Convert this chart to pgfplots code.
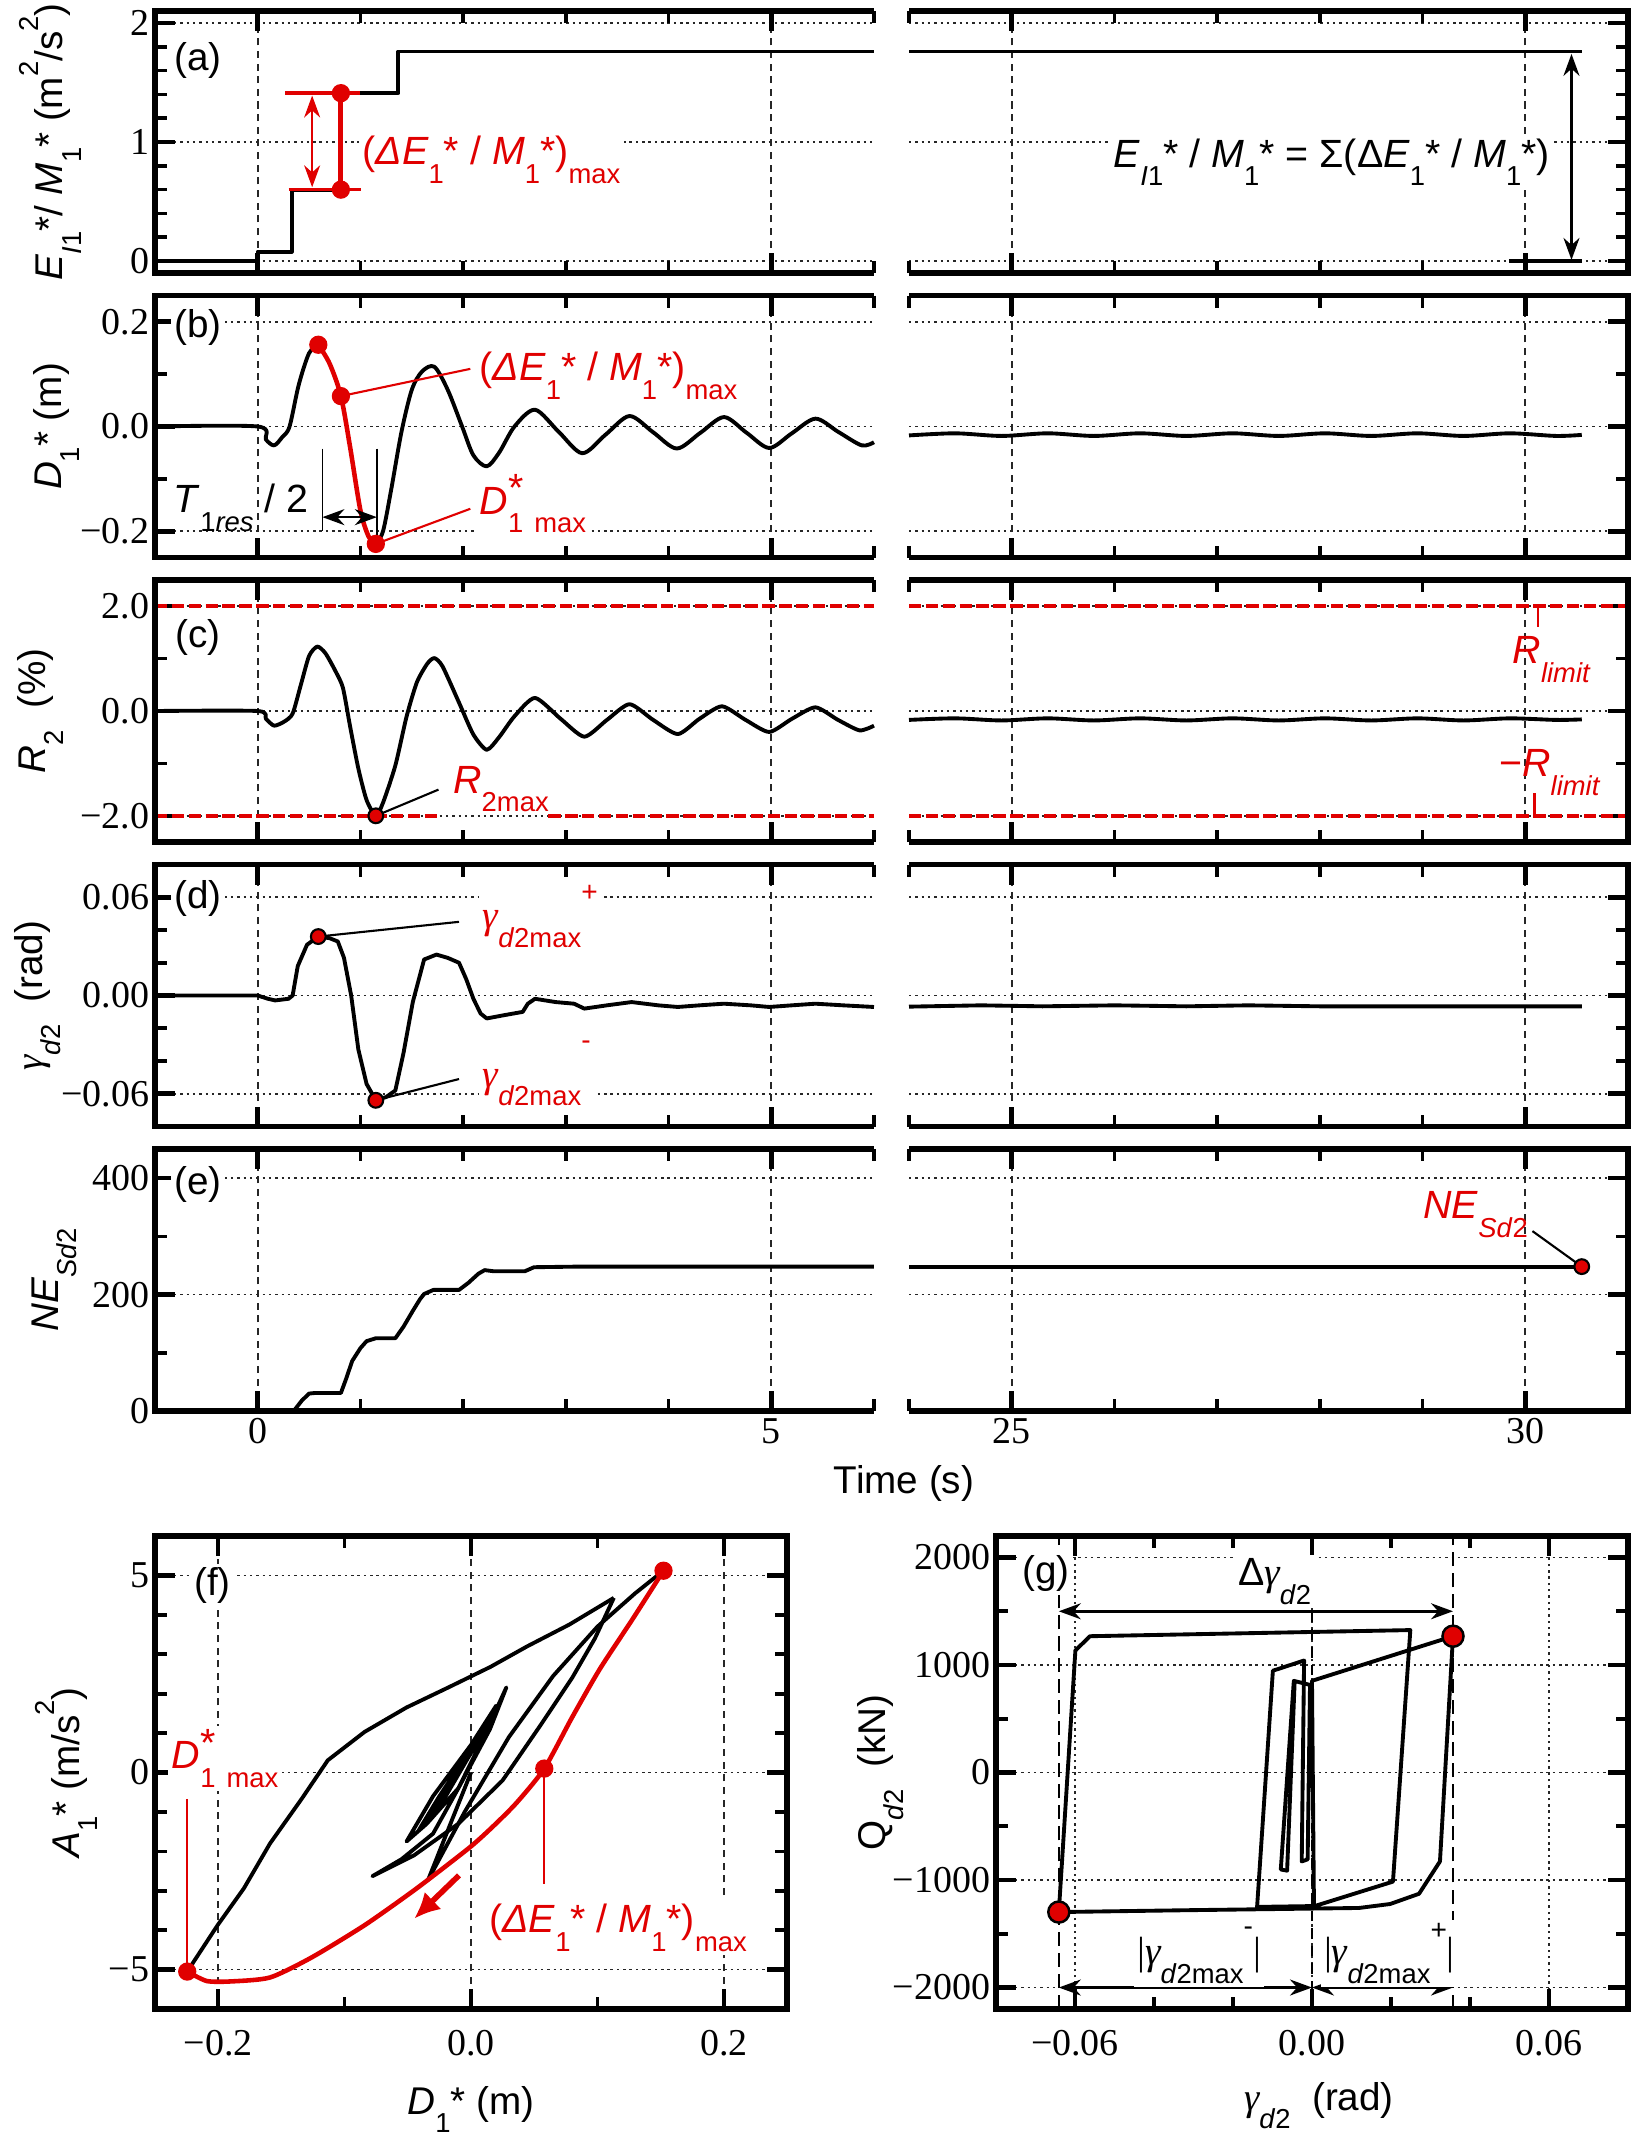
\documentclass[border=0pt]{standalone}
\usepackage{fontspec}
\setmainfont{Liberation Sans}
\newfontfamily\serif{Liberation Serif}
\usepackage{pgfplots}
\pgfplotsset{compat=1.18}
\usetikzlibrary{arrows.meta}
\definecolor{rd}{HTML}{E00000}
\newcommand\tickfont{\serif\fontsize{10.8}{12}\selectfont}
\newcommand\labfont{\fontsize{11}{13}\selectfont}
\newcommand\annfont{\fontsize{11.2}{13}\selectfont}
\newcommand\sub[1]{\raisebox{-0.9ex}{\fontsize{7.8}{8}\selectfont #1}}
\newcommand\sups[1]{\raisebox{1.2ex}{\fontsize{7.8}{8}\selectfont #1}}
\newcommand\gam{{\serif\itshape γ}}
\pgfplotsset{
 base/.style={scale only axis, clip=false, axis line style={draw=none}, scaled ticks=false,
  tick align=inside, major tick length=2mm, minor tick length=1.2mm,
  major tick style={line width=1.3pt,black}, minor tick style={line width=1.05pt,black},
  tick label style={font=\tickfont}, xticklabel style={inner sep=2pt}, yticklabel style={inner sep=1.5pt},
  xmajorgrids, ymajorgrids,
  x grid style={black!85, line width=0.45pt, dash pattern=on 2pt off 1.6pt},
  y grid style={black!85, line width=0.5pt, dash pattern=on 0.7pt off 1.1pt}},
 tl/.style={base, width=71.9mm, height=26.2mm, xmin=-1, xmax=6, xtick={0,5}, minor xtick={1,2,3,4,6}, xticklabels={}, ytick pos=left},
 tr/.style={base, width=71.9mm, height=26.2mm, xmin=24, xmax=31, xtick={25,30}, minor xtick={24,26,27,28,29}, xticklabels={}, ytick pos=right, yticklabels={}},
 cv/.style={black, line width=1.1pt, line join=round},
 dot/.style={only marks, mark=*, mark size=2.4pt, color=rd},
 edot/.style={only marks, mark=*, mark size=2.1pt, mark options={fill=rd, draw=black, line width=0.6pt}},
}
\newcommand\lframe{\draw[line width=1.6pt] (rel axis cs:1,1) -- (rel axis cs:0,1) -- (rel axis cs:0,0) -- (rel axis cs:1,0);}
\newcommand\rframe{\draw[line width=1.6pt] (rel axis cs:0,1) -- (rel axis cs:1,1) -- (rel axis cs:1,0) -- (rel axis cs:0,0);}
\newcommand\bframe{\draw[line width=1.6pt] (rel axis cs:0,0) rectangle (rel axis cs:1,1);}
\tikzset{dbl/.style={line width=0.6pt, {Stealth[length=2.2mm,width=1.6mm]}-{Stealth[length=2.2mm,width=1.6mm]}}}
\begin{document}
\begin{tikzpicture}
\useasboundingbox (0,0) rectangle (163.8mm,-213.6mm);

% ---------- (a)
\begin{axis}[tl, at={(15.5mm,-27.3mm)}, anchor=south west, ymin=-0.1, ymax=2.1,
 ytick={0,1,2}, yticklabels={0,1,2}, minor ytick={0.2,0.4,0.6,0.8,1.2,1.4,1.6,1.8}]
\addplot[cv] coordinates {(-1,0) (0,0) (0,0.08) (0.33,0.08) (0.33,0.6) (0.81,0.6) (0.81,1.41) (1.37,1.41) (1.37,1.76) (6,1.76)};
\draw[rd, line width=1pt] (axis cs:0.27,1.41) -- (axis cs:1.0,1.41);
\draw[rd, line width=1pt] (axis cs:0.3,0.6) -- (axis cs:1.01,0.6);
\draw[rd, line width=1.4pt] (axis cs:0.81,0.6) -- (axis cs:0.81,1.41);
\draw[rd, dbl] (axis cs:0.53,0.62) -- (axis cs:0.53,1.39);
\addplot[dot] coordinates {(0.81,0.6) (0.81,1.41)};
\node[font=\labfont, fill=white, inner sep=1pt] at (rel axis cs:0.06,0.81) {(a)};
\node[rd, anchor=west, font=\annfont, fill=white, inner sep=1pt] at (axis cs:0.98,0.85) {(\textit{ΔE}\sub{1}* / \textit{M}\sub{1}*)\sub{max}};
\lframe
\end{axis}
\begin{axis}[tr, at={(90.9mm,-27.3mm)}, anchor=south west, ymin=-0.1, ymax=2.1,
 ytick={0,1,2}, minor ytick={0.2,0.4,0.6,0.8,1.2,1.4,1.6,1.8}]
\addplot[cv] coordinates {(24,1.76) (30.55,1.76)};
\draw[line width=1pt] (axis cs:29.84,0) -- (axis cs:30.55,0);
\draw[dbl, line width=0.7pt] (axis cs:30.45,1.74) -- (axis cs:30.45,0.01);
\node[anchor=east, font=\annfont, fill=white, inner sep=1pt] at (axis cs:30.28,0.83) {\textit{E}\sub{\textit{I}1}* / \textit{M}\sub{1}* = Σ(Δ\textit{E}\sub{1}* / \textit{M}\sub{1}*)};
\rframe
\end{axis}

% ---------- (b)
\begin{axis}[tl, at={(15.5mm,-55.75mm)}, anchor=south west, ymin=-0.25, ymax=0.25,
 ytick={-0.2,0,0.2}, yticklabels={−0.2,0.0,0.2}, minor ytick={-0.1,0.1}]
\addplot[cv, smooth, tension=0.5] coordinates {(-1,0) (0,0) (0.08,-0.025) (0.16,-0.036) (0.24,-0.02) (0.31,0.0) (0.4,0.08) (0.5,0.14) (0.59,0.156)};
\addplot[cv, smooth, tension=0.5] coordinates {(1.15,-0.224) (1.22,-0.2) (1.3,-0.12) (1.4,-0.01) (1.5,0.07) (1.6,0.105) (1.72,0.114) (1.85,0.07) (1.99,0.0) (2.1,-0.055) (2.23,-0.076) (2.35,-0.05) (2.5,0.0) (2.7,0.032) (2.93,-0.01) (3.16,-0.051) (3.39,-0.015) (3.62,0.02) (3.85,-0.011) (4.08,-0.042) (4.31,-0.012) (4.54,0.018) (4.76,-0.012) (4.98,-0.041) (5.2,-0.013) (5.43,0.015) (5.65,-0.01) (5.88,-0.036) (6,-0.03)};
\addplot[rd, line width=1.3pt, smooth, tension=0.5] coordinates {(0.59,0.156) (0.7,0.12) (0.81,0.058) (0.9,-0.04) (1.0,-0.16) (1.08,-0.21) (1.15,-0.224)};
\addplot[dot] coordinates {(0.59,0.156) (0.81,0.058) (1.15,-0.224)};
\draw[rd, line width=0.6pt] (axis cs:0.81,0.058) -- (axis cs:2.07,0.11);
\draw[rd, line width=0.6pt] (axis cs:1.15,-0.224) -- (axis cs:2.07,-0.157);
\draw[line width=0.5pt] (axis cs:0.63,-0.042) -- (axis cs:0.63,-0.2);
\draw[line width=0.5pt] (axis cs:1.16,-0.042) -- (axis cs:1.16,-0.215);
\draw[dbl, line width=0.7pt] (axis cs:0.63,-0.173) -- (axis cs:1.16,-0.173);
\node[font=\labfont, fill=white, inner sep=1pt] at (rel axis cs:0.06,0.876) {(b)};
\node[rd, anchor=base west, font=\annfont, fill=white, inner sep=1pt] at (axis cs:2.12,0.088) {(\textit{ΔE}\sub{1}* / \textit{M}\sub{1}*)\sub{max}};
\node[rd, anchor=base west, font=\annfont, fill=white, inner sep=1pt] at (axis cs:2.12,-0.167) {\textit{D}\rlap{\sub{1}}\raisebox{0.6ex}{*}\ \sub{max}};
\node[anchor=base east, font=\annfont, inner sep=0pt] at (axis cs:0.5,-0.164) {\textit{T}\sub{1\textit{res}} / 2};
\lframe
\end{axis}
\begin{axis}[tr, at={(90.9mm,-55.75mm)}, anchor=south west, ymin=-0.25, ymax=0.25,
 ytick={-0.2,0,0.2}, minor ytick={-0.1,0.1}]
\addplot[cv, smooth] coordinates {(24,-0.017) (24.45,-0.013) (24.9,-0.018) (25.35,-0.013) (25.8,-0.018) (26.25,-0.013) (26.7,-0.018) (27.15,-0.013) (27.6,-0.018) (28.05,-0.013) (28.5,-0.018) (28.95,-0.013) (29.4,-0.018) (29.85,-0.013) (30.3,-0.018) (30.55,-0.016)};
\rframe
\end{axis}

% ---------- (c)
\begin{axis}[tl, at={(15.5mm,-84.2mm)}, anchor=south west, ymin=-2.5, ymax=2.5,
 ytick={-2,0,2}, yticklabels={−2.0,0.0,2.0}, minor ytick={-1,1}]
\addplot[rd, line width=1.2pt, dash pattern=on 3.5pt off 1.3pt] coordinates {(-1,2) (6,2)};
\addplot[rd, line width=1.2pt, dash pattern=on 3.5pt off 1.3pt] coordinates {(-1,-2) (1.79,-2)};
\addplot[rd, line width=1.2pt, dash pattern=on 3.5pt off 1.3pt] coordinates {(2.83,-2) (6,-2)};
\addplot[cv, smooth, tension=0.4] coordinates {(-1,0) (0,0) (0.08,-0.15) (0.16,-0.28) (0.26,-0.2) (0.34,-0.05) (0.42,0.5) (0.5,1.05) (0.58,1.23) (0.66,1.1) (0.76,0.75) (0.83,0.44) (0.9,-0.3) (0.98,-1.1) (1.06,-1.7) (1.15,-2.0) (1.22,-1.75) (1.34,-1.04) (1.45,-0.1) (1.55,0.55) (1.65,0.9) (1.72,1.01) (1.8,0.85) (1.96,0.16) (2.1,-0.45) (2.23,-0.74) (2.35,-0.5) (2.5,-0.1) (2.70,0.25) (2.95,-0.15) (3.18,-0.49) (3.4,-0.17) (3.62,0.13) (3.85,-0.17) (4.09,-0.44) (4.3,-0.15) (4.52,0.09) (4.75,-0.17) (4.98,-0.40) (5.2,-0.15) (5.43,0.07) (5.65,-0.17) (5.86,-0.37) (6,-0.28)};
\draw[line width=0.6pt] (axis cs:1.15,-2.0) -- (axis cs:1.76,-1.5);
\addplot[edot] coordinates {(1.15,-2.0)};
\node[font=\labfont, fill=white, inner sep=1pt] at (rel axis cs:0.06,0.78) {(c)};
\node[rd, anchor=base west, font=\annfont, inner sep=0.5pt] at (axis cs:1.88,-1.57) {\textit{R}\sub{2max}};
\lframe
\end{axis}
\begin{axis}[tr, at={(90.9mm,-84.2mm)}, anchor=south west, ymin=-2.5, ymax=2.5,
 ytick={-2,0,2}, minor ytick={-1,1}]
\addplot[rd, line width=1.2pt, dash pattern=on 3.5pt off 1.3pt] coordinates {(24,2) (31,2)};
\addplot[rd, line width=1.2pt, dash pattern=on 3.5pt off 1.3pt] coordinates {(24,-2) (31,-2)};
\addplot[cv, smooth] coordinates {(24,-0.17) (24.45,-0.14) (24.9,-0.18) (25.35,-0.14) (25.8,-0.18) (26.25,-0.14) (26.7,-0.18) (27.15,-0.14) (27.6,-0.18) (28.05,-0.14) (28.5,-0.18) (28.95,-0.14) (29.4,-0.18) (29.85,-0.14) (30.3,-0.17) (30.55,-0.16)};
\draw[rd, line width=0.6pt] (axis cs:30.12,2) -- (axis cs:30.12,1.61);
\draw[rd, line width=0.6pt] (axis cs:30.09,-1.57) -- (axis cs:30.09,-2);
\node[rd, anchor=base west, font=\annfont, inner sep=0pt] at (axis cs:29.87,0.9) {\textit{R}\sub{\textit{limit}}};
\node[rd, anchor=base west, font=\annfont, inner sep=0pt] at (axis cs:29.74,-1.25) {−\textit{R}\sub{\textit{limit}}};
\rframe
\end{axis}

% ---------- (d)
\begin{axis}[tl, at={(15.5mm,-112.65mm)}, anchor=south west, ymin=-0.08, ymax=0.08,
 ytick={-0.06,0,0.06}, yticklabels={−0.06,0.00,0.06}, minor ytick={-0.04,-0.02,0.02,0.04}]
\addplot[cv] coordinates {(-1,0) (0,0) (0.1,-0.002) (0.17,-0.003) (0.3,-0.002) (0.34,0) (0.39,0.018) (0.48,0.031) (0.59,0.036) (0.7,0.035) (0.78,0.033) (0.84,0.023) (0.91,0.0) (0.98,-0.033) (1.06,-0.054) (1.15,-0.064) (1.25,-0.062) (1.34,-0.058) (1.42,-0.035) (1.51,-0.004) (1.62,0.022) (1.74,0.025) (1.85,0.023) (1.96,0.020) (2.03,0.01) (2.10,-0.002) (2.17,-0.011) (2.23,-0.014) (2.4,-0.012) (2.58,-0.010) (2.63,-0.005) (2.70,-0.002) (2.9,-0.004) (3.08,-0.005) (3.18,-0.008) (3.4,-0.006) (3.64,-0.004) (3.9,-0.006) (4.09,-0.007) (4.3,-0.006) (4.54,-0.005) (4.8,-0.006) (4.98,-0.007) (5.2,-0.006) (5.43,-0.005) (5.7,-0.006) (6,-0.007)};
\draw[line width=0.6pt] (axis cs:0.59,0.036) -- (axis cs:1.96,0.045);
\draw[line width=0.6pt] (axis cs:1.15,-0.064) -- (axis cs:1.96,-0.051);
\addplot[edot] coordinates {(0.59,0.036) (1.15,-0.064)};
\node[font=\labfont, fill=white, inner sep=1pt] at (rel axis cs:0.06,0.872) {(d)};
\node[rd, anchor=base west, font=\annfont, fill=white, inner sep=1pt] at (axis cs:2.15,0.0407) {\gam\sub{\textit{d}2max}\raisebox{1.3ex}{\fontsize{8}{8}\selectfont +}};
\node[rd, anchor=base west, font=\annfont, fill=white, inner sep=1pt] at (axis cs:2.15,-0.056) {\gam\sub{\textit{d}2max}\raisebox{1.8ex}{\fontsize{8}{8}\selectfont -}};
\lframe
\end{axis}
\begin{axis}[tr, at={(90.9mm,-112.65mm)}, anchor=south west, ymin=-0.08, ymax=0.08,
 ytick={-0.06,0,0.06}, minor ytick={-0.04,-0.02,0.02,0.04}]
\addplot[cv] coordinates {(24,-0.0068) (24.7,-0.006) (25.3,-0.0066) (26,-0.006) (26.7,-0.0066) (27.3,-0.006) (28,-0.0066) (29,-0.0066) (30.55,-0.0066)};
\rframe
\end{axis}

% ---------- (e)
\begin{axis}[tl, at={(15.5mm,-141.1mm)}, anchor=south west, ymin=0, ymax=450,
 ytick={0,200,400}, yticklabels={0,200,400}, minor ytick={100,300}, xticklabels={0,5}]
\addplot[cv] coordinates {(-1,0) (0.35,0) (0.43,18) (0.5,30) (0.56,31) (0.81,31) (0.86,55) (0.92,86) (1.0,108) (1.06,120) (1.15,125) (1.34,125) (1.42,145) (1.51,172) (1.58,192) (1.62,201) (1.71,208) (1.96,208) (2.05,220) (2.15,236) (2.21,242) (2.3,240) (2.6,240) (2.69,247) (3.1,248) (6,248)};
\node[font=\labfont, fill=white, inner sep=1pt] at (rel axis cs:0.06,0.863) {(e)};
\lframe
\end{axis}
\begin{axis}[tr, at={(90.9mm,-141.1mm)}, anchor=south west, ymin=0, ymax=450,
 ytick={0,200,400}, minor ytick={100,300}, xticklabels={25,30}]
\addplot[cv] coordinates {(24,248) (30.55,248)};
\draw[line width=0.6pt] (axis cs:30.55,248) -- (axis cs:30.07,309);
\addplot[edot] coordinates {(30.55,248)};
\node[rd, anchor=base west, font=\annfont, inner sep=0pt] at (axis cs:29.0,330) {\textit{NE}\sub{\textit{Sd}2}};
\rframe
\end{axis}

% ---------- (f)
\begin{axis}[base, at={(15.5mm,-200.9mm)}, anchor=south west, width=63.2mm, height=47.3mm,
 xmin=-0.25, xmax=0.25, ymin=-6, ymax=6, xticklabel style={inner sep=5.7pt},
 xtick={-0.2,0,0.2}, xticklabels={−0.2,0.0,0.2}, minor xtick={-0.1,0.1},
 ytick={-5,0,5}, yticklabels={−5,0,5}, minor ytick={-4,-3,-2,-1,1,2,3,4}]
% first half cycle, loading to the top point
\addplot[cv] coordinates {(0,0) (-0.015,-1.2) (-0.034,-2.73) (-0.005,-1.0) (0.03,0.9) (0.065,2.45) (0.10,3.7) (0.13,4.55) (0.1523,5.12)};
% reloading after the minimum
\addplot[cv] coordinates {(-0.2245,-5.05) (-0.2004,-3.87) (-0.1797,-2.94) (-0.159,-1.8) (-0.134,-0.67) (-0.1133,0.31) (-0.0842,1.03) (-0.051,1.65) (-0.0178,2.16) (0.0154,2.68) (0.0444,3.2) (0.0776,3.75) (0.113,4.43)};
% later smaller cycles
\addplot[cv] coordinates {(0.113,4.43) (0.098,3.4) (0.08,2.4) (0.055,1.2) (0.025,-0.2) (-0.01,-1.3) (-0.045,-2.1) (-0.078,-2.63) (-0.055,-2.2) (-0.03,-1.55) (-0.01,-0.4) (0.01,0.9) (0.028,2.16) (0.015,1.1) (-0.01,-0.4) (-0.035,-1.3) (-0.051,-1.75) (-0.03,-0.6) (0.0,0.7) (0.02,1.7) (0.005,0.8) (-0.02,-0.5) (-0.042,-1.5) (-0.025,-0.6) (0.0,0.6) (0.018,1.55) (0.0,0.5) (-0.02,-0.6) (-0.041,-1.45) (-0.02,-0.5) (0.0,0.5) (0.015,1.35)};
\addplot[rd, line width=1.3pt, smooth, tension=0.4] coordinates {(0.1523,5.12) (0.128,3.9) (0.102,2.63) (0.080,1.4) (0.058,0.10) (0.036,-0.77) (0.018,-1.35) (-0.001,-1.9) (-0.043,-2.94) (-0.084,-3.87) (-0.126,-4.69) (-0.159,-5.2) (-0.19,-5.3) (-0.209,-5.29) (-0.2245,-5.05)};
\draw[rd, line width=0.6pt] (axis cs:-0.2245,-0.67) -- (axis cs:-0.2245,-5.05);
\draw[rd, line width=0.6pt] (axis cs:0.058,0.10) -- (axis cs:0.058,-2.84);
\draw[rd, line width=1.6pt, -{Latex[length=2.6mm,width=2.4mm]}] (axis cs:-0.0095,-2.61) -- (axis cs:-0.045,-3.71);
\addplot[dot] coordinates {(0.1523,5.12) (0.058,0.10) (-0.2245,-5.05)};
\node[font=\labfont, fill=white, inner sep=1pt] at (axis cs:-0.2046,4.74) {(f)};
\node[rd, anchor=base west, font=\annfont, fill=white, inner sep=1pt] at (axis cs:-0.24,0.1) {\textit{D}\rlap{\sub{1}}\raisebox{0.6ex}{*}\ \sub{max}};
\node[rd, anchor=base west, font=\annfont, fill=white, inner sep=1pt] at (axis cs:0.011,-4.07) {(\textit{ΔE}\sub{1}* / \textit{M}\sub{1}*)\sub{max}};
\bframe
\end{axis}

% ---------- (g)
\begin{axis}[base, at={(99.6mm,-200.9mm)}, anchor=south west, width=63.2mm, height=47.3mm,
 xmin=-0.08, xmax=0.08, ymin=-2200, ymax=2200, xticklabel style={inner sep=5.7pt},
 xtick={-0.06,0,0.06}, xticklabels={−0.06,0.00,0.06}, minor xtick={-0.04,-0.02,0.02,0.04},
 ytick={-2000,-1000,0,1000,2000}, yticklabels={−2000,−1000,0,1000,2000}, minor ytick={-1500,-500,500,1500},
 x grid style={black!85, line width=0.5pt, dash pattern=on 0.7pt off 1.1pt}]
\draw[line width=0.6pt, dash pattern=on 4pt off 2pt] (axis cs:-0.0641,-2200) -- (axis cs:-0.0641,2200);
\draw[line width=0.6pt, dash pattern=on 4pt off 2pt] (axis cs:0.0357,-2200) -- (axis cs:0.0357,2200);
\draw[line width=0.5pt, dash pattern=on 3pt off 2pt] (axis cs:0,-2200) -- (axis cs:0,2200);
\addplot[cv] coordinates {(0.0005,-1245) (0.0,853) (0.0357,1268) (0.0324,-827) (0.0271,-1128) (0.0198,-1223) (0.0119,-1260) (-0.03,-1280) (-0.0641,-1298) (-0.0599,1136) (-0.0562,1268) (0.0249,1325) (0.0205,-1015) (0.0007,-1242) (-0.0139,-1250) (-0.0099,947) (-0.002,1042) (-0.0026,-827) (-0.0011,-808) (-0.0005,815) (-0.0046,853) (-0.0079,-902) (-0.0063,-913) (-0.0044,834)};
\draw[dbl, line width=0.7pt] (axis cs:-0.0641,1500) -- (axis cs:0.0357,1500);
\draw[dbl, line width=0.7pt] (axis cs:-0.0641,-2000) -- (axis cs:0,-2000);
\draw[dbl, line width=0.7pt] (axis cs:0,-2000) -- (axis cs:0.0357,-2000);
\addplot[only marks, mark=*, mark size=3pt, mark options={fill=rd, draw=black, line width=0.7pt}] coordinates {(-0.0641,-1298) (0.0357,1268)};
\node[font=\labfont, fill=white, inner sep=1pt] at (axis cs:-0.0674,1853) {(g)};
\node[anchor=base west, font=\annfont, fill=white, inner sep=1pt] at (axis cs:-0.0198,1740) {Δ\gam\sub{\textit{d}2}};
\node[anchor=base west, font=\annfont, fill=white, inner sep=1pt] at (axis cs:-0.0453,-1789) {{\serif |}\gam\sub{\textit{d}2max}\raisebox{1.4ex}{\fontsize{8}{8}\selectfont -}{\serif |}};
\node[anchor=base west, font=\annfont, fill=white, inner sep=1pt] at (axis cs:0.002,-1789) {{\serif |}\gam\sub{\textit{d}2max}\raisebox{1.2ex}{\fontsize{8}{8}\selectfont +}{\serif |}};
\bframe
\end{axis}

% ---------- axis labels
\node[rotate=90, anchor=base, font=\labfont] at (6.3mm,-14.2mm) {\textit{E}\sub{\textit{I}1}*/ \textit{M}\sub{1}* (m\sups{2}/s\sups{2})};
\node[rotate=90, anchor=base, font=\labfont] at (6.1mm,-42.65mm) {\textit{D}\sub{1}* (m)};
\node[rotate=90, anchor=base, font=\labfont] at (4.5mm,-71.1mm) {\textit{R}\sub{2}\ \ (\%)};
\node[rotate=90, anchor=base, font=\labfont] at (4.2mm,-99.55mm) {\gam\sub{\textit{d}2}\ \ (rad)};
\node[rotate=90, anchor=base, font=\labfont] at (5.8mm,-128.0mm) {\textit{NE}\sub{\textit{Sd}2}};
\node[font=\labfont] at (90.4mm,-148.3mm) {Time (s)};
\node[rotate=90, anchor=base, font=\labfont] at (7.9mm,-177.25mm) {\textit{A}\sub{1}* (m/s\sups{2})};
\node[rotate=90, anchor=base, font=\labfont] at (88.5mm,-177.25mm) {Q\sub{\textit{d}2}\ \ (kN)};
\node[anchor=base, font=\labfont] at (47.1mm,-211.4mm) {\textit{D}\sub{1}* (m)};
\node[anchor=base, font=\labfont] at (131.9mm,-211.0mm) {\gam\sub{\textit{d}2}\ \ (rad)};
\end{tikzpicture}
\end{document}
